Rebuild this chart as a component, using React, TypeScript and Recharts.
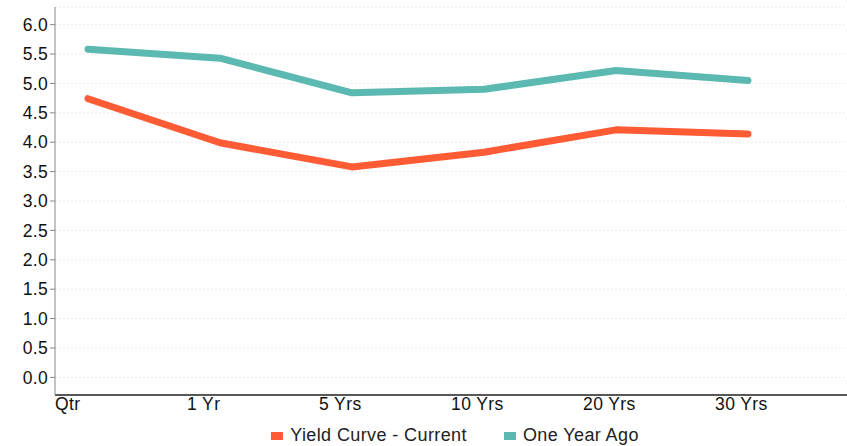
import * as React from 'react';
import { LineChart, Line, XAxis, YAxis, CartesianGrid, Legend } from 'recharts';

const categories = ['Qtr', '1 Yr', '5 Yrs', '10 Yrs', '20 Yrs', '30 Yrs'];
const currentYields = [4.74, 3.99, 3.58, 3.83, 4.21, 4.14];
const yearAgoYields = [5.58, 5.43, 4.84, 4.9, 5.22, 5.05];
const yTicks = [0, 0.5, 1, 1.5, 2, 2.5, 3, 3.5, 4, 4.5, 5, 5.5, 6];

const series = [
  { key: 'current', label: 'Yield Curve - Current', color: '#ff5b35' },
  { key: 'yearAgo', label: 'One Year Ago', color: '#5bb9b1' },
];

const chartData = categories.map((name, i) => ({
  name,
  idx: i,
  current: currentYields[i],
  yearAgo: yearAgoYields[i],
}));

// labels sit at the left edge of each slot, points a quarter in
const xTicks = categories.map((_, i) => i - 0.25);

const font = '"Liberation Sans", Arial, sans-serif';

const renderLegend = () => (
  <div
    style={{
      display: 'flex',
      justifyContent: 'center',
      gap: 37,
      fontFamily: font,
      fontSize: 18,
      letterSpacing: 0.4,
      color: '#222',
      paddingTop: 8,
    }}
  >
    {series.map((s) => (
      <span key={s.key} style={{ display: 'flex', alignItems: 'center' }}>
        <span style={{ width: 12, height: 8, background: s.color, marginRight: 7, display: 'inline-block' }} />
        {s.label}
      </span>
    ))}
  </div>
);

const App: React.FC = () => {
  return (
    <div style={{ width: 847, height: 446 }}>
      <style>{'body { margin: 0; }'}</style>
      <LineChart width={847} height={446} data={chartData} margin={{ top: 7, right: 0, left: 0, bottom: 0 }}>
        <CartesianGrid vertical={false} strokeDasharray="2 2" stroke="#ececec" />
        <XAxis
          dataKey="idx"
          type="number"
          domain={[-0.25, 5.75]}
          ticks={xTicks}
          tickFormatter={(v: number) => categories[Math.round(v + 0.25)]}
          tick={{ fontSize: 17.5, fill: '#111', fontFamily: font, textAnchor: 'start', letterSpacing: 0.4 }}
          tickLine={false}
          tickSize={0}
          tickMargin={3}
          height={22}
          axisLine={{ stroke: '#222', strokeWidth: 1.5 }}
        />
        <YAxis
          domain={[-0.3, 6.3]}
          ticks={yTicks}
          tickFormatter={(v: number) => v.toFixed(1)}
          width={55}
          tick={{ fontSize: 17.5, fill: '#111', fontFamily: font, letterSpacing: 0.3 }}
          tickSize={5}
          tickMargin={2}
          tickLine={{ stroke: '#888' }}
          axisLine={{ stroke: '#888' }}
          allowDataOverflow
        />
        <Legend
          verticalAlign="bottom"
          content={renderLegend}
          wrapperStyle={{ left: 55, width: 800 }}
        />
        {series.map((s) => (
          <Line
            key={s.key}
            dataKey={s.key}
            name={s.label}
            stroke={s.color}
            strokeWidth={7}
            strokeLinecap="round"
            strokeLinejoin="round"
            dot={false}
            activeDot={false}
            isAnimationActive={false}
          />
        ))}
      </LineChart>
    </div>
  );
};

export default App;
